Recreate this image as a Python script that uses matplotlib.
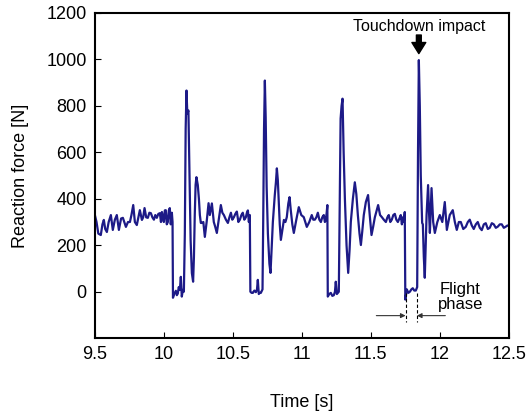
import matplotlib.pyplot as plt

plt.rcParams['font.family'] = ['Liberation Sans', 'DejaVu Sans']

# time [s] and reaction force [N]
t = [9.500, 9.512, 9.525, 9.543, 9.555, 9.565, 9.575, 9.587, 9.600, 9.616, 9.630, 9.645,
     9.659, 9.674, 9.690, 9.703, 9.725, 9.740, 9.754, 9.765, 9.778, 9.790, 9.804, 9.815,
     9.826, 9.841, 9.850, 9.860, 9.872, 9.884, 9.895, 9.906, 9.917, 9.928, 9.938, 9.949,
     9.960, 9.971, 9.979, 9.986, 9.993, 10.000, 10.007, 10.014, 10.021, 10.029, 10.036,
     10.043, 10.050, 10.058, 10.063,
     10.066, 10.075, 10.087, 10.094, 10.101, 10.108, 10.116, 10.123, 10.130, 10.138,
     10.145, 10.152, 10.158, 10.164, 10.170, 10.178, 10.186, 10.194, 10.203, 10.212,
     10.218, 10.224, 10.230, 10.236, 10.246, 10.254, 10.261, 10.268, 10.275, 10.286,
     10.297, 10.310, 10.324, 10.333, 10.348, 10.362, 10.372, 10.384, 10.400, 10.413,
     10.424, 10.435, 10.450, 10.464, 10.475, 10.486, 10.496, 10.507, 10.518, 10.529,
     10.540, 10.551, 10.562, 10.572, 10.583, 10.594, 10.602, 10.609, 10.616, 10.623,
     10.627, 10.636, 10.645, 10.656, 10.667, 10.675, 10.681, 10.688, 10.696, 10.703,
     10.715, 10.720, 10.726, 10.732, 10.738, 10.745, 10.754, 10.765, 10.773, 10.782,
     10.790, 10.804, 10.812, 10.819, 10.826, 10.833, 10.840, 10.848, 10.860, 10.870,
     10.881, 10.891, 10.902, 10.911, 10.920, 10.931, 10.942, 10.960, 10.978, 10.996,
     11.014, 11.025, 11.036, 11.054, 11.072, 11.083, 11.094, 11.105, 11.116, 11.127,
     11.138, 11.148, 11.159, 11.167, 11.174, 11.180, 11.185,
     11.188, 11.199, 11.210, 11.221, 11.232, 11.240, 11.246, 11.254, 11.261, 11.268,
     11.275, 11.281, 11.288, 11.295, 11.303, 11.312, 11.324, 11.336, 11.346, 11.355,
     11.370, 11.384, 11.395, 11.406, 11.418, 11.428, 11.438, 11.449, 11.464, 11.480,
     11.492, 11.505, 11.517, 11.529, 11.553, 11.567, 11.580, 11.594, 11.609, 11.620,
     11.630, 11.641, 11.652, 11.663, 11.674, 11.685, 11.696, 11.707, 11.717, 11.725,
     11.732, 11.739, 11.746,
     11.750, 11.761, 11.772, 11.783, 11.794, 11.804, 11.815, 11.826, 11.836, 11.842,
     11.848, 11.855, 11.862, 11.872, 11.877, 11.884, 11.891, 11.898, 11.904, 11.915,
     11.922, 11.928, 11.934, 11.940, 11.952, 11.964, 11.982, 12.000, 12.018, 12.036,
     12.051, 12.072, 12.094, 12.109, 12.123, 12.138, 12.152, 12.170, 12.188, 12.203,
     12.217, 12.232, 12.246, 12.261, 12.275, 12.290, 12.304, 12.319, 12.333, 12.348,
     12.362, 12.377, 12.391, 12.406, 12.420, 12.435, 12.449, 12.464, 12.478, 12.490,
     12.500]
force = [330, 300, 250, 244, 290, 309, 270, 257, 300, 330, 266, 310,
         330, 266, 315, 318, 279, 300, 300, 330, 373, 300, 287, 320,
         351, 309, 320, 360, 320, 318, 340, 338, 320, 310, 330, 318,
         335, 338, 300, 343, 320, 300, 350, 351, 290, 300, 350,
         360, 290, 340, 300,
         -26, -10, 4, -15, -8, 20, 8, 64, -21, 8,
         0, 250, 700, 866, 767, 780, 500, 220, 80, 43,
         150, 330, 460, 493, 459, 400, 330, 296, 296, 300,
         236, 300, 381, 330, 380, 300, 280, 253, 320, 373,
         340, 330, 310, 296, 320, 340, 310, 320, 335, 345,
         300, 310, 330, 340, 310, 320, 340, 350, 300, 330,
         0, -5, -5, 5, -2, 10, 51, -10, -5, -5,
         10, 300, 700, 909, 750, 450, 250, 120, 81, 200,
         300, 416, 470, 531, 480, 380, 290, 223, 270, 309,
         300, 321, 380, 407, 350, 290, 253, 310, 364, 330,
         321, 300, 279, 300, 330, 310, 310, 320, 340, 310,
         300, 320, 330, 300, 310, 340, 373,
         -21, -10, -5, -18, -15, 0, 43, -10, -5, 0,
         400, 745, 800, 831, 600, 400, 200, 81, 180, 300,
         400, 471, 420, 330, 250, 201, 260, 330, 386, 416,
         330, 244, 280, 320, 373, 330, 321, 310, 300, 320,
         330, 300, 310, 330, 335, 310, 300, 315, 330, 290,
         320, 300, 343,
         -34, 10, -5, 0, 10, 15, 5, 5, 20, 600,
         997, 800, 500, 296, 290, 150, 60, 200, 330, 459,
         340, 253, 350, 446, 300, 253, 300, 330, 300, 386,
         266, 330, 351, 300, 266, 300, 300, 270, 279, 300,
         310, 285, 270, 290, 300, 275, 265, 290, 295, 270,
         275, 295, 290, 275, 280, 290, 290, 275, 280, 285,
         283]

xticks = [9.5, 10, 10.5, 11, 11.5, 12, 12.5]
xticklabels = ['9.5', '10', '10.5', '11', '11.5', '12', '12.5']
yticks = [0, 200, 400, 600, 800, 1000, 1200]

fig = plt.figure(figsize=(5.3, 4.18), dpi=100)
ax = fig.add_axes([0.179, 0.191, 0.781, 0.778])

ax.plot(t, force, color='#1d1a87', lw=1.6)

ax.set_xlim(9.5, 12.5)
ax.set_ylim(-200, 1200)
ax.set_xticks(xticks)
ax.set_xticklabels(xticklabels)
ax.set_yticks(yticks)
ax.tick_params(direction='in', length=4, labelsize=13, pad=6)
for s in ax.spines.values():
    s.set_linewidth(1.5)

ax.set_xlabel('Time [s]', fontsize=13, labelpad=22)
ax.set_ylabel('Reaction force [N]', fontsize=13, labelpad=12)

# touchdown impact
ax.annotate('', xy=(11.848, 1025), xytext=(11.848, 1105),
            arrowprops=dict(facecolor='black', edgecolor='black', width=3.5,
                            headwidth=10, headlength=8, shrink=0))
ax.text(11.848, 1140, 'Touchdown impact', ha='center', va='center', fontsize=11.5)

# flight phase
for x0 in [11.752, 11.834]:
    ax.plot([x0, x0], [-5, -130], color='black', lw=0.8, ls=(0, (3, 2)))
ax.annotate('', xy=(11.752, -103), xytext=(11.54, -103),
            arrowprops=dict(arrowstyle='-|>', color='#333333', lw=0.8,
                            mutation_scale=7, shrinkA=0, shrinkB=0))
ax.annotate('', xy=(11.834, -103), xytext=(12.04, -103),
            arrowprops=dict(arrowstyle='-|>', color='#333333', lw=0.8,
                            mutation_scale=7, shrinkA=0, shrinkB=0))
ax.text(12.15, -22, 'Flight\nphase', ha='center', va='center', fontsize=12,
        linespacing=0.95)

fig.savefig('out.png', dpi=100)
